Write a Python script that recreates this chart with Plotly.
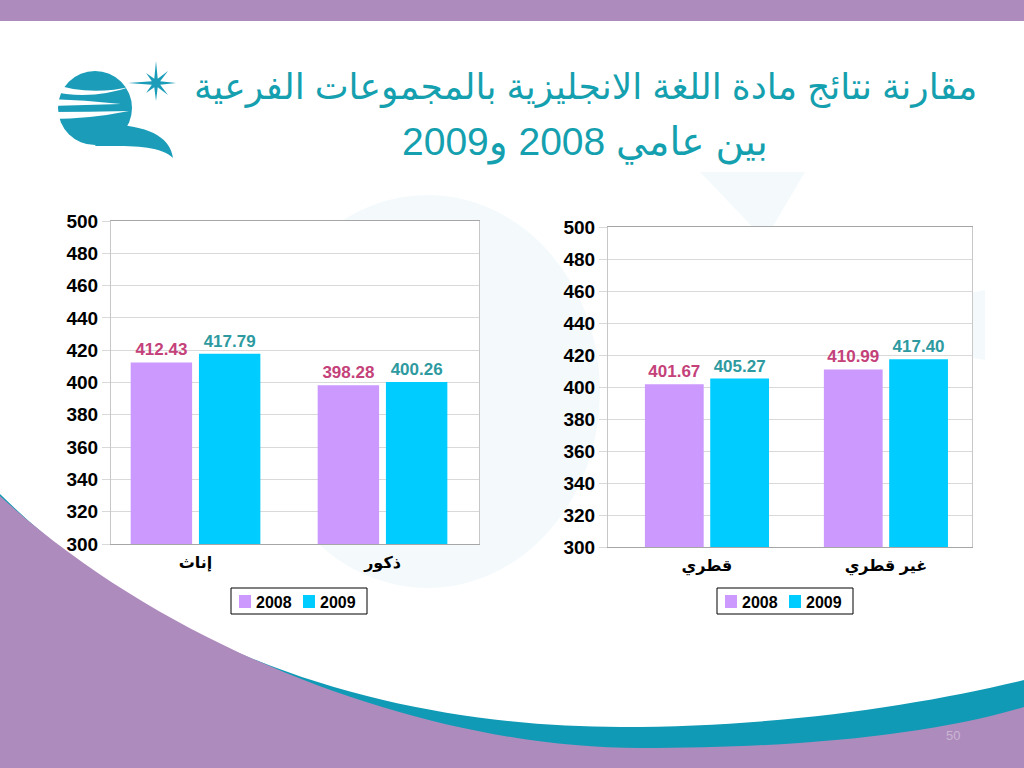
import math
import plotly.graph_objects as go

# ---- data ----
years = ["2008", "2009"]
gender_cats = ["إناث", "ذكور"]
gender_2008 = [412.43, 398.28]
gender_2009 = [417.79, 400.26]
nat_cats = ["قطري", "غير قطري"]
nat_2008 = [401.67, 410.99]
nat_2009 = [405.27, 417.40]
y_ticks = list(range(300, 501, 20))

title_1 = "مقارنة نتائج مادة اللغة الانجليزية بالمجموعات الفرعية"
title_2 = "بين عامي 2008 و2009"

W, H = 1024, 768
FONT = "Liberation Sans, Arial, DejaVu Sans, sans-serif"
C_2008 = "#CC99FF"
C_2009 = "#00CCFF"
T_2008 = "#C4417A"
T_2009 = "#2E9AA0"
TEAL = "#14A0AE"
PURPLE = "#AE8BBD"
BAND = "#119AB5"
bar_colors = [C_2008, C_2009]
text_colors = [T_2008, T_2009]


def px(x, y):
    return f"{x / W:.5f},{1 - y / H:.5f}"


def path(cmds):
    # cmds: list of (letter, [(x, y), ...]) in pixel coordinates
    # plotly keeps only one parameter group per command, so split them
    per = {"M": 1, "L": 1, "Q": 2, "C": 3}
    out = ""
    for c, pts in cmds:
        n = per[c]
        for i in range(0, len(pts), n):
            out += c + " " + " ".join(px(x, y) for x, y in pts[i:i + n]) + " "
    return out + "Z"


shapes = []
annotations = []


def add_path(cmds, color):
    shapes.append(dict(type="path", xref="paper", yref="paper", layer="below",
                       path=path(cmds), fillcolor=color, line=dict(width=0)))


def add_rect(x0, y0, x1, y1, color, layer="below", line=None):
    shapes.append(dict(type="rect", xref="paper", yref="paper", layer=layer,
                       x0=x0 / W, x1=x1 / W, y0=1 - y1 / H, y1=1 - y0 / H,
                       fillcolor=color, line=line or dict(width=0)))


def add_ellipse(x0, y0, x1, y1, color):
    shapes.append(dict(type="circle", xref="paper", yref="paper", layer="below",
                       x0=x0 / W, x1=x1 / W, y0=1 - y1 / H, y1=1 - y0 / H,
                       fillcolor=color, line=dict(width=0)))


def add_text(text, x, y, size, color, anchor="center", bold=False):
    annotations.append(dict(text=text, x=x / W, y=1 - y / H, xref="paper", yref="paper",
                            showarrow=False, xanchor=anchor, yanchor="middle",
                            font=dict(family=FONT, size=size, color=color,
                                      weight="bold" if bold else "normal")))


def add_legend(x0, y0):
    # boxed legend like the Excel one: swatch + year, twice
    add_rect(x0, y0, x0 + 136, y0 + 26, "white", layer="above",
             line=dict(color="black", width=1))
    for i, (yr, col) in enumerate(zip(years, bar_colors)):
        sx = x0 + 8 + i * 64
        add_rect(sx, y0 + 7, sx + 12, y0 + 20, col, layer="above")
        add_text(yr, sx + 15, y0 + 14, 16, "black", anchor="left", bold=True)


# faint watermark
WM = "#F4FAFC"
add_ellipse(255, 195, 600, 588, WM)
add_path([("M", [(700, 172)]), ("L", [(765, 240), (805, 172)])], WM)
add_path([("M", [(985, 290)]), ("L", [(800, 330), (985, 360)])], WM)

# plot area backgrounds (hide watermark inside charts)
add_rect(111, 221, 479, 544, "white")
add_rect(608, 227, 972, 547, "white")

# top band
add_rect(0, 0, W, 21, PURPLE)

# bottom teal band + purple
add_path([("M", [(0, 494)]),
          ("C", [(180, 672), (420, 727), (621, 727)]),
          ("C", [(780, 727), (920, 705), (W, 680)]),
          ("L", [(W, H), (0, H)])], BAND)
add_path([("M", [(0, 496)]),
          ("C", [(170, 652), (430, 748), (640, 748)]),
          ("C", [(800, 748), (930, 735), (W, 707)]),
          ("L", [(W, H), (0, H)])], PURPLE)

# logo
LOGO = "#1B9DB9"
add_ellipse(58, 71, 132, 145, LOGO)
add_path([("M", [(110, 124)]),
          ("C", [(145, 126), (170, 135), (173, 158)]),
          ("C", [(160, 145), (130, 146), (95, 146)])], LOGO)
add_path([("M", [(50, 83)]), ("Q", [(90, 97), (133, 86)]),
          ("Q", [(90, 101), (50, 91)])], "white")
add_path([("M", [(50, 99)]), ("Q", [(85, 100), (121, 104)]),
          ("Q", [(85, 105), (50, 106)])], "white")
add_path([("M", [(50, 112)]), ("Q", [(90, 112), (129, 111)]),
          ("Q", [(90, 119), (50, 119)])], "white")
star_c = (156, 83)
rays = [(0, 28), (45, 14), (90, 22), (135, 17), (180, 20), (225, 17), (270, 18), (315, 14)]
pts = []
for ang, r in rays:
    a = math.radians(ang)
    pts.append((star_c[0] - r * math.cos(a), star_c[1] - r * math.sin(a)))
    a2 = math.radians(ang + 22.5)
    pts.append((star_c[0] - 4.5 * math.cos(a2), star_c[1] - 4.5 * math.sin(a2)))
add_path([("M", [pts[0]]), ("L", pts[1:])], LOGO)

# legends
add_legend(231, 588)
add_legend(717, 588)

# titles and page number
add_text(title_1, 585, 87, 36, TEAL)
add_text(title_2, 585, 143, 39, TEAL)
add_text("50", 953, 735, 13, "#C9B6D1")

fig = go.Figure()

for cats, v08, v09, xa, ya in [
    (gender_cats, gender_2008, gender_2009, "x", "y"),
    (nat_cats, nat_2008, nat_2009, "x2", "y2"),
]:
    for name, vals, col, tcol in zip(years, [v08, v09], bar_colors, text_colors):
        fig.add_trace(go.Bar(
            x=cats, y=vals, name=name, xaxis=xa, yaxis=ya, showlegend=False,
            marker=dict(color=col, line=dict(width=0)),
            texttemplate="%{y:.2f}", textposition="outside", cliponaxis=False,
            textfont=dict(family=FONT, size=17, color=tcol, weight="bold"),
            hoverinfo="skip",
        ))

yax = dict(range=[300, 500], tickvals=y_ticks, showgrid=True, gridcolor="#D9D9D9",
           showline=True, linecolor="#C8C8C8", mirror=True, ticks="outside",
           ticklen=8, tickcolor="#D9D9D9", zeroline=False, automargin=False,
           tickfont=dict(family=FONT, size=19, color="black", weight="bold"))
xax = dict(showline=True, linecolor="#A6A6A6", mirror=True, ticks="",
           ticklabelstandoff=4, automargin=False,
           tickfont=dict(family=FONT, size=16, color="black", weight="bold"))

fig.update_layout(
    width=W, height=H, margin=dict(l=0, r=0, t=0, b=0, pad=0, autoexpand=False),
    paper_bgcolor="white", plot_bgcolor="white", showlegend=False,
    barmode="group", bargap=0.27, bargroupgap=0.1,
    xaxis=dict(domain=[111 / W, 479 / W], anchor="y", range=[-0.452, 1.516], **xax),
    yaxis=dict(domain=[1 - 544 / H, 1 - 221 / H], anchor="x", **yax),
    xaxis2=dict(domain=[608 / W, 972 / W], anchor="y2", range=[-0.553, 1.481], **xax),
    yaxis2=dict(domain=[1 - 547 / H, 1 - 227 / H], anchor="x2", **yax),
    shapes=shapes,
    annotations=annotations,
)

fig.write_html("out.html", config={"displayModeBar": False},
               post_script="document.body.style.margin='0px';")
